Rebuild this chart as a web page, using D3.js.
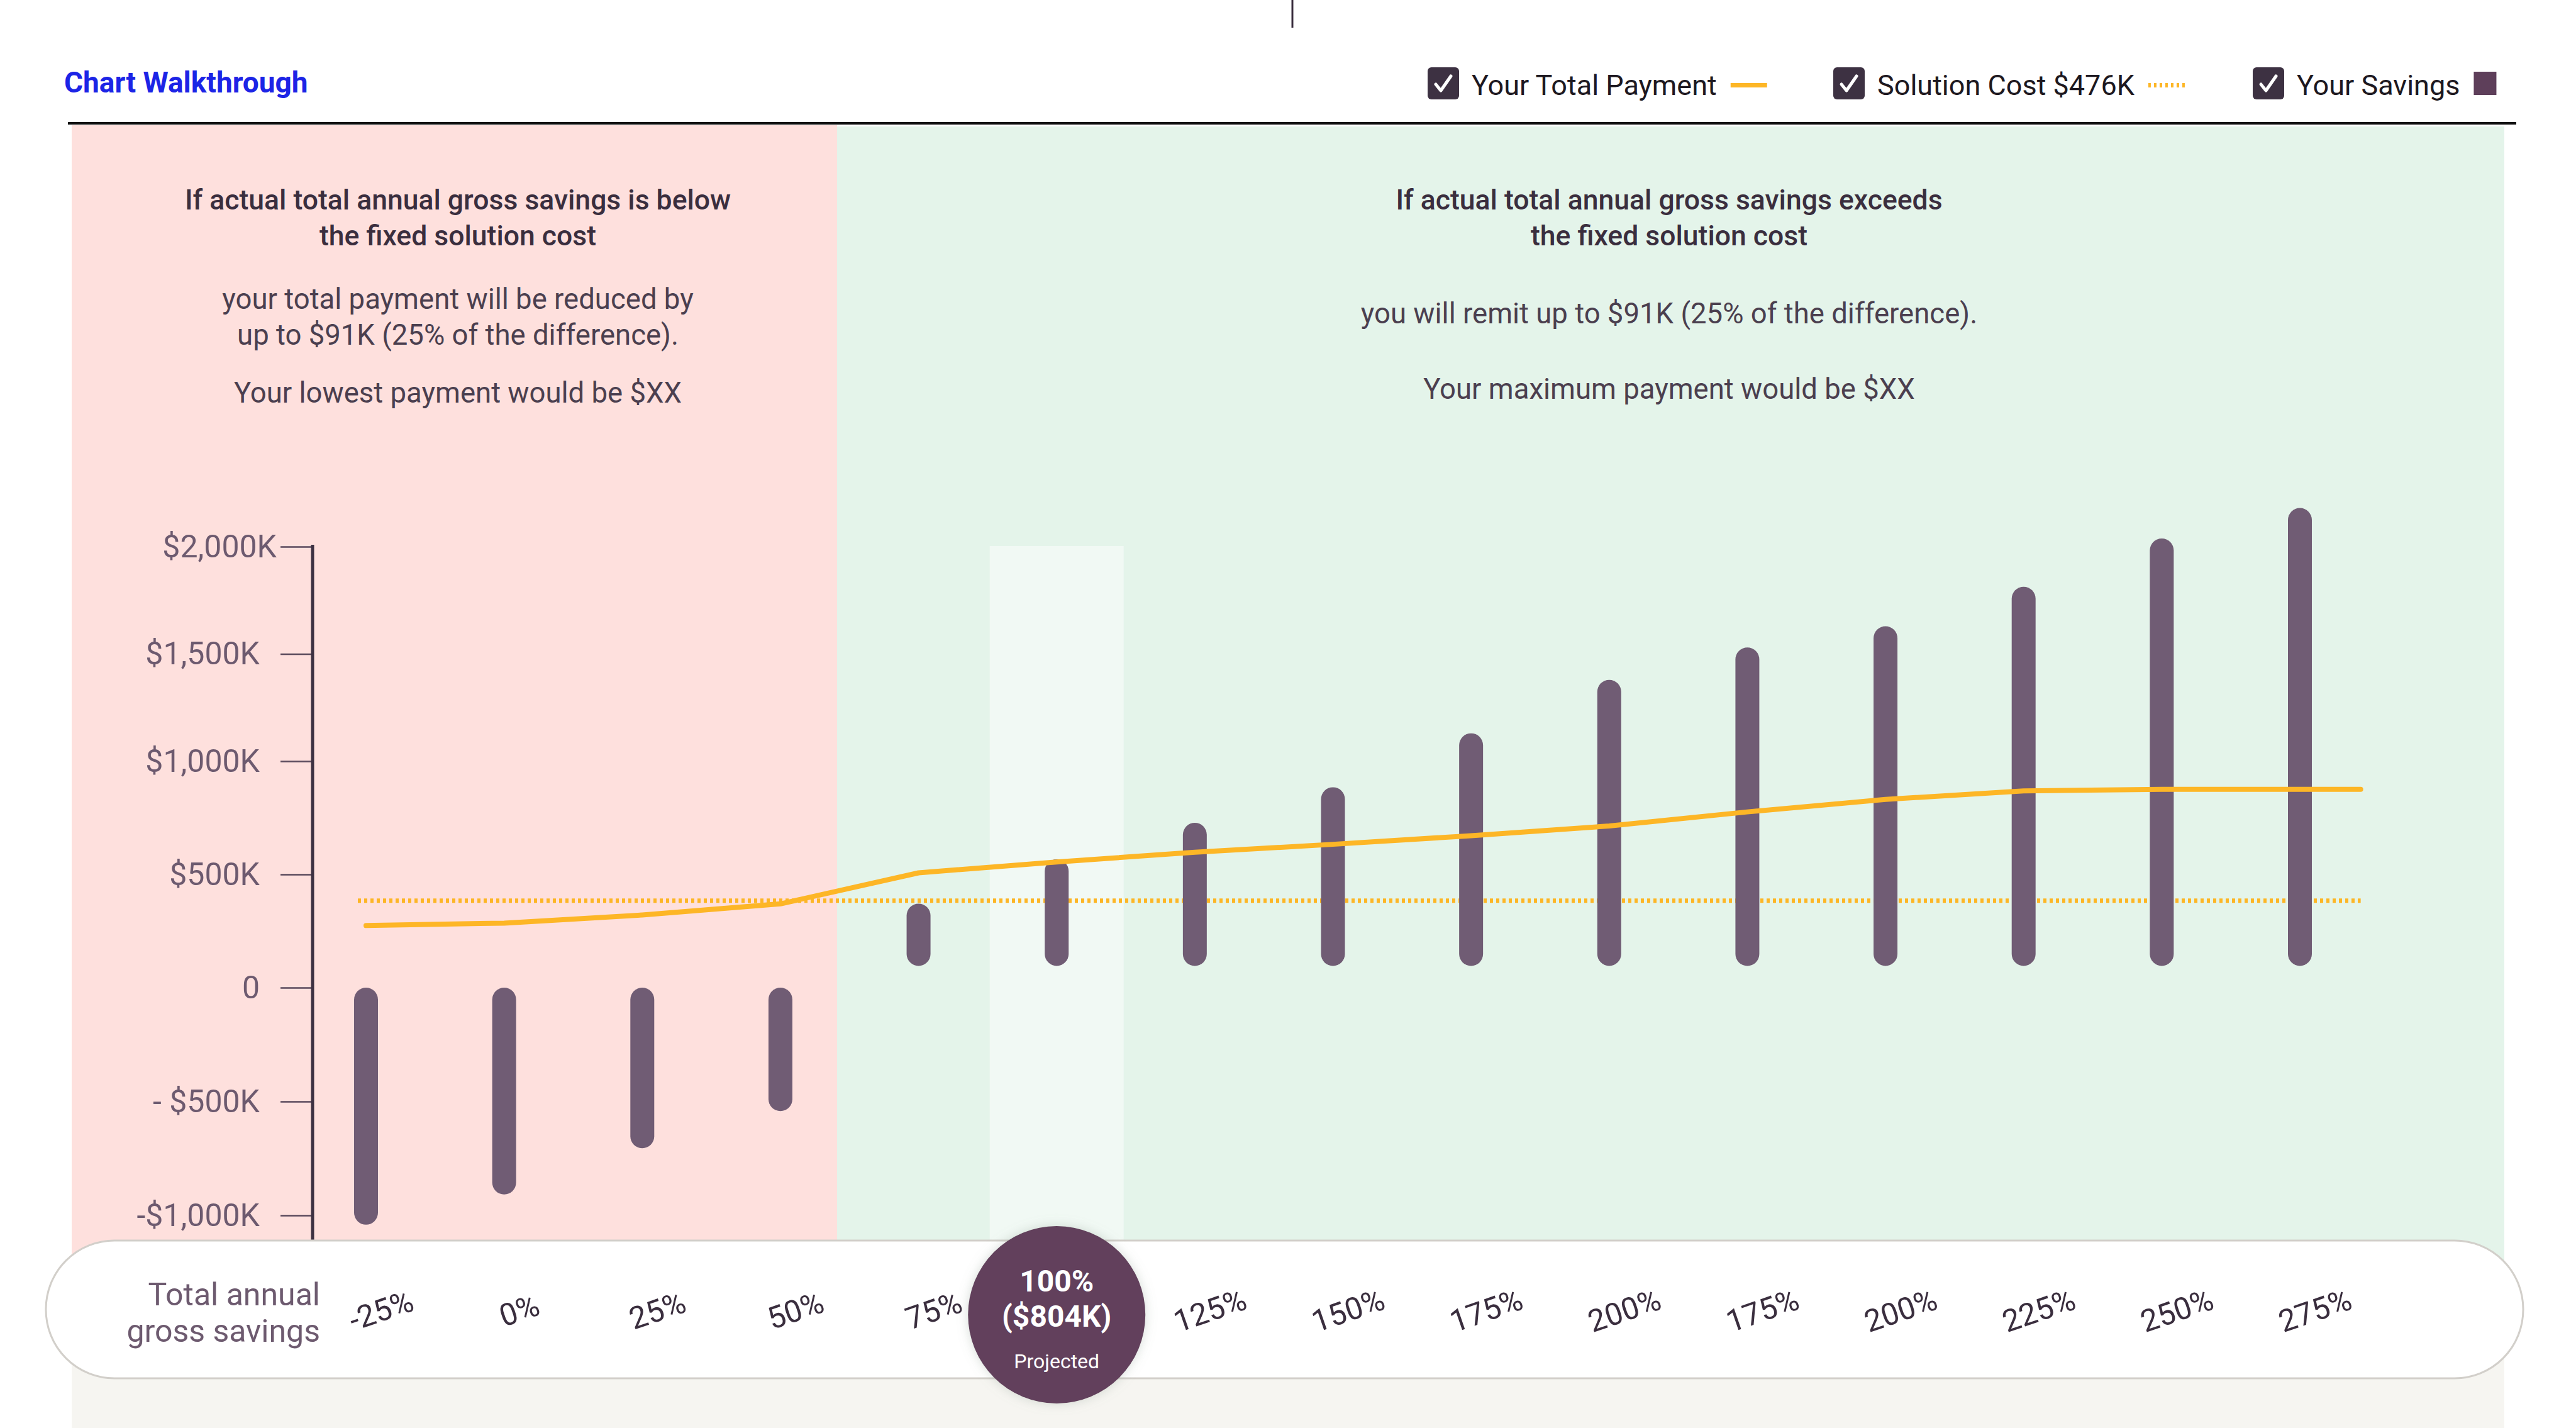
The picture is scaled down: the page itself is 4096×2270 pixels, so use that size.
<!DOCTYPE html>
<html>
<head>
<meta charset="utf-8">
<script src="https://cdn.jsdelivr.net/npm/d3@7"></script>
<style>
  body { margin: 0; background: #fff; }
  text { font-family: Roboto, "Liberation Sans", sans-serif; }
</style>
</head>
<body>
<div id="chart"></div>
<script>
// Values (thousands of $)
const categories = ["-25%", "0%", "25%", "50%", "75%", "100%", "125%", "150%", "175%", "200%", "175%", "200%", "225%", "250%", "275%"];
const savingsFrom = [0, 0, 0, 0, 96, 96, 96, 96, 96, 96, 96, 96, 96, 96, 96];
const savingsTo = [-1041, -908, -705, -542, 371, 567, 728, 885, 1130, 1379, 1530, 1629, 1813, 2038, 2180];
const totalPayment = [274, 285, 321, 370, 507, 555, 598, 633, 671, 714, 776, 831, 869, 876, 876];
const solutionCostLevel = 384;
const yTickValues = [2000, 1500, 1000, 500, 0, -500, -1000];
const yTickLabels = ["$2,000K", "$1,500K", "$1,000K", "$500K", "0", "- $500K", "-$1,000K"];
const projectedIndex = 5;
const projectedLabel = ["100%", "($804K)", "Projected"];
const legendLabels = ["Your Total Payment", "Solution Cost $476K", "Your Savings"];

const W = 4096, H = 2270;
const pillTop = 1972, pillBottom = 2191;

const svg = d3.select("#chart").append("svg")
    .attr("width", W)
    .attr("height", H);

const defs = svg.append("defs");
defs.append("filter").attr("id", "glow")
    .attr("x", "-30%").attr("y", "-30%").attr("width", "160%").attr("height", "160%")
    .append("feDropShadow")
    .attr("dx", 0).attr("dy", 0).attr("stdDeviation", 9)
    .attr("flood-color", "#8a9a8e").attr("flood-opacity", 0.35);

// scales
const x = d3.scalePoint()
    .domain(d3.range(categories.length))
    .range([582, 3657]);

// the reference axis is not evenly spaced, so a piecewise scale
const y = d3.scaleLinear()
    .domain([-1000, 0, 1000, 2000])
    .range([1932, 1570, 1210, 869]);

// header
svg.append("line")
    .attr("x1", 2055).attr("x2", 2055).attr("y1", 0).attr("y2", 44)
    .attr("stroke", "#3a2e3e").attr("stroke-width", 3);

svg.append("text")
    .attr("x", 102).attr("y", 147)
    .attr("font-size", 46).attr("font-weight", 700)
    .attr("fill", "#1c24e6")
    .text("Chart Walkthrough");

// legend
const legend = svg.append("g");
const legendX = [2270, 2915, 3582];
legendLabels.forEach((lab, i) => {
    const g = legend.append("g").attr("transform", `translate(${legendX[i]},107)`);
    g.append("rect").attr("width", 50).attr("height", 51).attr("rx", 6).attr("fill", "#3d3142");
    g.append("path").attr("d", "M13,27 L21,37 L37,14")
        .attr("fill", "none").attr("stroke", "#fff").attr("stroke-width", 5)
        .attr("stroke-linecap", "round").attr("stroke-linejoin", "round");
    const t = g.append("text").attr("x", 70).attr("y", 44)
        .attr("font-size", 45).attr("fill", "#1d1820").text(lab);
    const tw = t.node().getComputedTextLength();
    const mx = 70 + tw + 22;
    if (i === 0) {
        g.append("rect").attr("x", mx).attr("y", 25).attr("width", 58).attr("height", 7).attr("fill", "#fdb626");
    } else if (i === 1) {
        g.append("line").attr("x1", mx).attr("x2", mx + 61).attr("y1", 28.5).attr("y2", 28.5)
            .attr("stroke", "#fdb626").attr("stroke-width", 7).attr("stroke-dasharray", "4 5");
    } else {
        g.append("rect").attr("x", mx).attr("y", 7).attr("width", 36).attr("height", 37).attr("fill", "#5e3f5a");
    }
});

svg.append("line")
    .attr("x1", 108).attr("x2", 4001).attr("y1", 196).attr("y2", 196)
    .attr("stroke", "#111").attr("stroke-width", 4);

// background panels
const splitX = 1331;
svg.append("rect").attr("x", 114).attr("y", 199).attr("width", splitX - 114).attr("height", 2085 - 199).attr("fill", "#fee0dd");
svg.append("rect").attr("x", splitX).attr("y", 201).attr("width", 3982 - splitX).attr("height", 2085 - 201).attr("fill", "#e4f4ea");
svg.append("rect").attr("x", 114).attr("y", 2085).attr("width", 3982 - 114).attr("height", H - 2085).attr("fill", "#f6f5f1");

// panel notes
const notes = svg.append("g").attr("text-anchor", "middle");
const leftC = 728, rightC = 2654;
const head = (cx, cy, s) => notes.append("text").attr("x", cx).attr("y", cy)
    .attr("font-size", 44.5).attr("font-weight", 500).attr("fill", "#3a2e3e").text(s);
const body = (cx, cy, s) => notes.append("text").attr("x", cx).attr("y", cy)
    .attr("font-size", 45.5).attr("fill", "#4b3f4f").text(s);
head(leftC, 333, "If actual total annual gross savings is below");
head(leftC, 390, "the fixed solution cost");
body(leftC, 491, "your total payment will be reduced by");
body(leftC, 548, "up to $91K (25% of the difference).");
body(leftC, 640, "Your lowest payment would be $XX");
head(rightC, 333, "If actual total annual gross savings exceeds");
head(rightC, 390, "the fixed solution cost");
body(rightC, 514, "you will remit up to $91K (25% of the difference).");
body(rightC, 634, "Your maximum payment would be $XX");

// projected column highlight
const colW = x.step() * 0.97;
svg.append("rect")
    .attr("x", x(projectedIndex) - colW / 2)
    .attr("y", y(2000) - 1)
    .attr("width", colW)
    .attr("height", pillTop - y(2000))
    .attr("fill", "#f1f9f4");

// y axis
const axisX = 497;
const yAxis = svg.append("g")
    .attr("transform", `translate(${axisX},0)`)
    .call(d3.axisLeft(y).tickValues(yTickValues).tickSize(51).tickPadding(33)
        .tickFormat((d, i) => yTickLabels[i]));
yAxis.select(".domain").remove();
yAxis.selectAll(".tick line").attr("stroke", "#5a4a5c").attr("stroke-width", 2.5);
yAxis.selectAll(".tick text")
    .attr("font-size", 50).attr("fill", "#6d5a6f")
    .attr("font-family", "Roboto, sans-serif")
    .attr("x", d => d === 2000 ? -57 : -84);
svg.append("line")
    .attr("x1", axisX).attr("x2", axisX)
    .attr("y1", y(2000) - 3).attr("y2", pillTop)
    .attr("stroke", "#3d3142").attr("stroke-width", 5);

// solution cost (dotted)
const lineEnd = x(categories.length - 1) + x.step() * 0.44;
svg.append("line")
    .attr("x1", x(0) - 13).attr("x2", lineEnd)
    .attr("y1", y(solutionCostLevel)).attr("y2", y(solutionCostLevel))
    .attr("stroke", "#fdb626").attr("stroke-width", 7)
    .attr("stroke-dasharray", "5 5");

// savings bars
svg.append("g")
    .selectAll("rect")
    .data(categories.map((c, i) => ({ i, from: savingsFrom[i], to: savingsTo[i] })))
    .join("rect")
    .attr("x", d => x(d.i) - 19)
    .attr("y", d => y(Math.max(d.from, d.to)))
    .attr("width", 38)
    .attr("height", d => Math.abs(y(d.from) - y(d.to)))
    .attr("rx", 19)
    .attr("fill", "#705c74");

// total payment line
const pts = totalPayment.map((v, i) => [x(i), y(v)]);
pts.push([lineEnd, y(totalPayment[totalPayment.length - 1])]);
svg.append("path")
    .attr("d", d3.line()(pts))
    .attr("fill", "none")
    .attr("stroke", "#fdb626")
    .attr("stroke-width", 8)
    .attr("stroke-linejoin", "round")
    .attr("stroke-linecap", "round");

// bottom pill with category labels
svg.append("rect")
    .attr("x", 73).attr("y", pillTop)
    .attr("width", 4012 - 73).attr("height", pillBottom - pillTop)
    .attr("rx", 109)
    .attr("fill", "#fff")
    .attr("stroke", "#d2cfca").attr("stroke-width", 3);

const pillLabel = svg.append("g").attr("text-anchor", "end").attr("font-size", 50).attr("fill", "#6d5a6f");
pillLabel.append("text").attr("x", 509).attr("y", 2075).text("Total annual");
pillLabel.append("text").attr("x", 509).attr("y", 2133).text("gross savings");

svg.append("g")
    .selectAll("text")
    .data(categories.map((c, i) => ({ c, i })).filter(d => d.i !== projectedIndex))
    .join("text")
    .attr("transform", d => `translate(${x(d.i) + 24},2083) rotate(-19)`)
    .attr("text-anchor", "middle")
    .attr("dy", "0.35em")
    .attr("font-size", 49)
    .attr("fill", "#3a2e3e")
    .text(d => d.c);

const proj = svg.append("g").attr("transform", `translate(${x(projectedIndex)},2090)`);
proj.append("circle").attr("r", 141).attr("fill", "#623f5b").attr("filter", "url(#glow)");
proj.append("text").attr("y", -54).attr("dy", "0.35em").attr("text-anchor", "middle")
    .attr("font-size", 48).attr("font-weight", 700).attr("fill", "#fff").text(projectedLabel[0]);
proj.append("text").attr("y", 2).attr("dy", "0.35em").attr("text-anchor", "middle")
    .attr("font-size", 48).attr("font-weight", 700).attr("fill", "#fff").text(projectedLabel[1]);
proj.append("text").attr("y", 74).attr("dy", "0.35em").attr("text-anchor", "middle")
    .attr("font-size", 32).attr("fill", "#fff").text(projectedLabel[2]);
</script>
</body>
</html>
